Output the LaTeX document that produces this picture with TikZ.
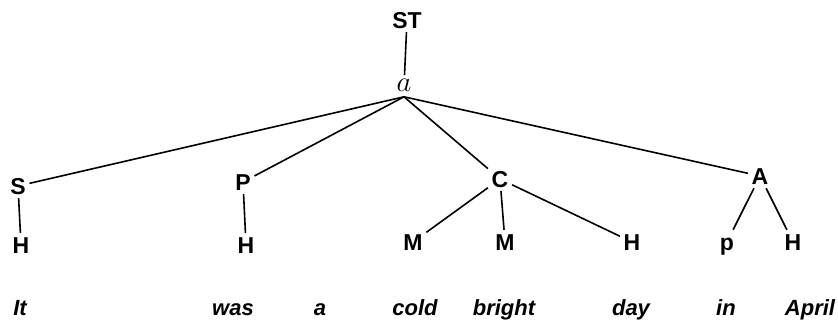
\documentclass[tikz,border=0pt]{standalone}
\usepackage{fontspec}
\setmainfont{Liberation Sans}

\begin{document}
\begin{tikzpicture}[x=0.5pt, y=-0.5pt, thick,
		main/.style = {inner sep=1.5pt, text height=8.4pt, text depth=0pt, font=\fontsize{11.5}{13}\selectfont\bfseries},
		word/.style = {inner sep=1.5pt, anchor=base, font=\fontsize{11}{13}\selectfont\bfseries\itshape}]
		\useasboundingbox (0,0) rectangle (838,321);
		\node[main] (st) at (407,20) {ST};
		\node[main, inner sep=2.5pt, text height=5pt, font=\fontsize{15}{17}\selectfont] (a) at (404,86) {$a$};
		\node[main] (s) at (18,186) {S};
		\node[main] (sh) at (21,245) {H};
		\node[main] (p) at (243,182) {P};
		\node[main] (ph) at (246,245) {H};
		\node[main] (c) at (500,179) {C};
		\node[main] (cm1) at (413,242) {M};
		\node[main] (cm2) at (505,242) {M};
		\node[main] (ch) at (632,242) {H};
		\node[main] (ad) at (760,176) {A};
		\node[main] (ap) at (727,242) {p};
		\node[main] (ah) at (793,242) {H};
		
		\node[word] (w1) at (20,315) {It};
		\node[word] (w2) at (233,315) {was};
		\node[word] (w3) at (320,315) {a};
		\node[word] (w4) at (415,315) {cold};
		\node[word] (w5) at (504,315) {bright};
		\node[word] (w6) at (631,315) {day};
		\node[word] (w7) at (726,315) {in};
		\node[word] (w8) at (810,315) {April};
		
		\draw (st) -- (a);
		\draw (a.south) -- (s);
		\draw (a.south) -- (p);
		\draw (a.south) -- (c);
		\draw (a.south) -- (ad);
		\draw (s) -- (sh);
		\draw (p) -- (ph);
		\draw (c) -- (cm1);
		\draw (c) -- (cm2);
		\draw (c) -- (ch);
		\draw (ad) -- (ap);
		\draw (ad) -- (ah);
	\end{tikzpicture}
\end{document}
